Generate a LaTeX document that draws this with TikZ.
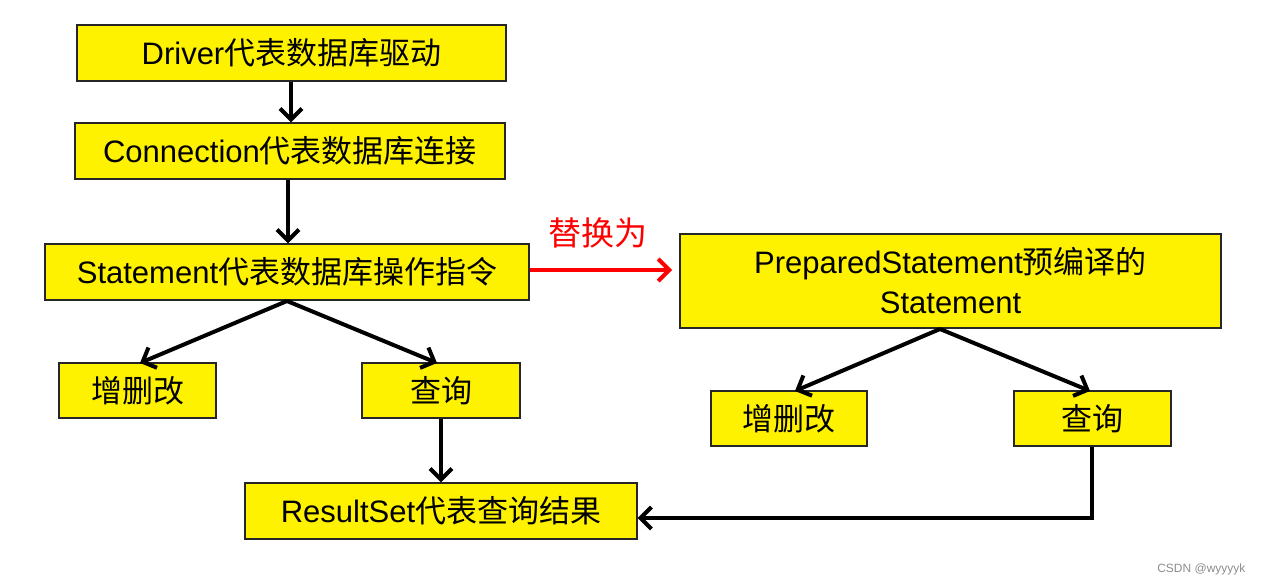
\documentclass[tikz,border=0pt]{standalone}
\usepackage{fontspec}
\setmainfont{Liberation Sans}
\newfontfamily\cjk{Noto Sans CJK SC}
\usetikzlibrary{arrows.meta}
\begin{document}
\begin{tikzpicture}[x=1pt,y=-1pt,
  ybox/.style={draw=black!85,line width=1.3pt,fill=yellow,inner sep=0pt,align=center,
    font=\fontsize{31}{40}\selectfont},
  conn/.style={line width=4pt,-{Straight Barb[length=11pt,width=22pt,line width=4pt]}},
  redconn/.style={conn,draw=red}]
\useasboundingbox (0,0) rectangle (1263,586);
\node[ybox,minimum width=429pt,minimum height=56pt] (drv) at (291.5,53) {Driver{\cjk 代表数据库驱动}};
\node[ybox,minimum width=430pt,minimum height=56pt] (con) at (290,151) {Connection{\cjk 代表数据库连接}};
\node[ybox,minimum width=484pt,minimum height=56pt] (stm) at (287,272) {Statement{\cjk 代表数据库操作指令}};
\node[ybox,minimum width=541pt,minimum height=94pt] (pst) at (950.5,281) {PreparedStatement{\cjk 预编译的}\\Statement};
\node[ybox,minimum width=157pt,minimum height=55pt] (zsg1) at (137.5,390.5) {\cjk 增删改};
\node[ybox,minimum width=158pt,minimum height=55pt] (cx1) at (441,390.5) {\cjk 查询};
\node[ybox,minimum width=156pt,minimum height=55pt] (zsg2) at (789,418.5) {\cjk 增删改};
\node[ybox,minimum width=157pt,minimum height=55pt] (cx2) at (1092.5,418.5) {\cjk 查询};
\node[ybox,minimum width=392pt,minimum height=56pt] (rs) at (441,511) {ResultSet{\cjk 代表查询结果}};
\node[text=red,font=\cjk\fontsize{33}{40}\selectfont] (rep) at (598,233) {替换为};
\node[text=black!45,font=\fontsize{12}{14}\selectfont,anchor=east] (wm) at (1249,569) {CSDN @wyyyyk};
\coordinate (stmb) at (287,301);
\coordinate (pstb) at (940,329);
\coordinate (turn) at (1092,518);
\coordinate (redend) at (672,270);
\draw[conn] (drv.south -| 291,0) -- (con.north -| 291,0);
\draw[conn] (con.south -| 288,0) -- (stm.north -| 288,0);
\draw[conn] (stmb) -- (140,363);
\draw[conn] (stmb) -- (437,363);
\draw[conn] (cx1.south -| 441,0) -- (rs.north -| 441,0);
\draw[conn] (pstb) -- (795,391);
\draw[conn] (pstb) -- (1090,391);
\draw[conn] (cx2.south -| turn) -- (turn) -- (rs.east |- turn);
\draw[redconn] (stm.east |- redend) -- (redend);
\end{tikzpicture}
\end{document}
